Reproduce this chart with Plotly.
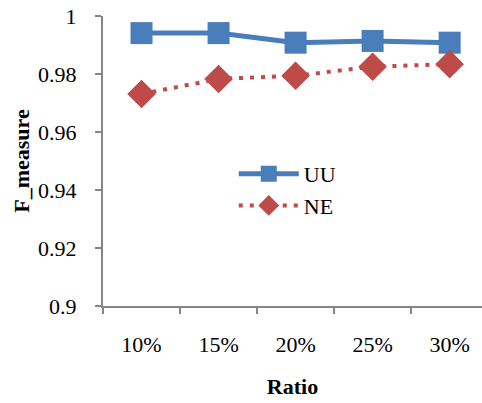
import plotly.graph_objects as go

categories = ["10%", "15%", "20%", "25%", "30%"]
uu_values = [0.9941, 0.9941, 0.9908, 0.9914, 0.9908]
ne_values = [0.9731, 0.9783, 0.9794, 0.9825, 0.9834]
y_ticks = [0.9, 0.92, 0.94, 0.96, 0.98, 1.0]
y_tick_labels = ["0.9", "0.92", "0.94", "0.96", "0.98", "1"]

FONT = "Liberation Serif"

fig = go.Figure()
fig.add_trace(go.Scatter(
    x=categories, y=uu_values, name="UU", mode="lines+markers",
    line=dict(color="#4A7EBB", width=5),
    marker=dict(symbol="square", size=22, color="#4A7EBB"),
))
fig.add_trace(go.Scatter(
    x=categories, y=ne_values, name="NE", mode="lines+markers",
    line=dict(color="#BE4B48", width=4, dash="4px,7px"),
    marker=dict(symbol="diamond", size=22, color="#BE4B48"),
))

fig.update_layout(
    width=482, height=403,
    margin=dict(l=103, r=0, t=16, b=97),
    paper_bgcolor="white", plot_bgcolor="white",
    font=dict(family=FONT, size=22, color="black"),
    showlegend=True,
    legend=dict(x=0.345, y=0.40, xanchor="left", yanchor="middle",
                bgcolor="rgba(0,0,0,0)", font=dict(size=22, family=FONT),
                tracegroupgap=0, itemwidth=60),
    xaxis=dict(
        type="category", range=[-0.5, 4.42],
        showline=True, linecolor="#868686", linewidth=2,
        ticks="outside", tickson="boundaries", ticklen=6, tickcolor="#868686", tickwidth=2,
        showgrid=False, zeroline=False,
        ticklabelstandoff=18,
        tickfont=dict(family=FONT, size=22),
        title=dict(text="<b>Ratio</b>", font=dict(size=22, family=FONT), standoff=22),
    ),
    yaxis=dict(
        range=[0.9, 1.0], tickvals=y_ticks, ticktext=y_tick_labels,
        showline=True, linecolor="#868686", linewidth=2,
        ticks="outside", ticklen=6, tickcolor="#868686", tickwidth=2,
        showgrid=False, zeroline=False,
        ticklabelstandoff=14,
        tickfont=dict(family=FONT, size=22),
        title=dict(text="<b>F_measure</b>", font=dict(size=22, family=FONT), standoff=2),
    ),
)

fig.write_html("out.html")
